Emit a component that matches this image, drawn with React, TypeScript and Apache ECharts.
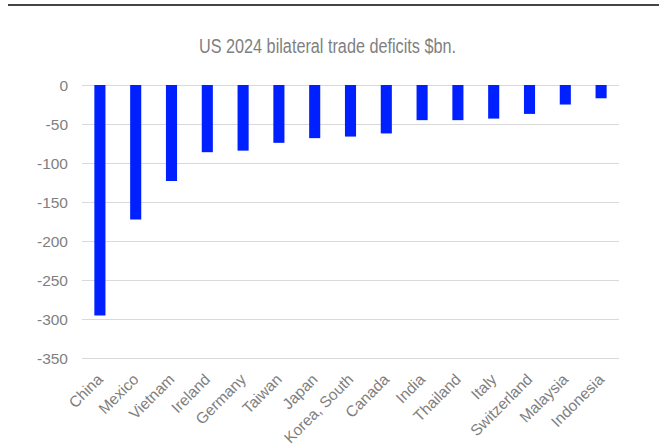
import React, { useEffect, useRef } from "react";
import * as echarts from "echarts";

const categories = ["China", "Mexico", "Vietnam", "Ireland", "Germany", "Taiwan", "Japan", "Korea, South", "Canada", "India", "Thailand", "Italy", "Switzerland", "Malaysia", "Indonesia"];
const deficits = [-295, -172, -123, -86, -84, -74, -68, -66, -62, -45, -45, -43, -37, -25, -17];
const yTicks = { min: -350, max: 0, interval: 50 };
const titleText = "US 2024 bilateral trade deficits $bn.";

const FONT = "'Liberation Sans', Arial, sans-serif";

export default function App() {
  const ref = useRef<HTMLDivElement>(null);
  useEffect(() => {
    if (!ref.current) return;
    const chart = echarts.init(ref.current, undefined, { renderer: "svg" });
    chart.setOption({
      animation: false,
      backgroundColor: "#ffffff",
      graphic: [
        { type: "line", shape: { x1: 8, y1: 5, x2: 659, y2: 5 }, style: { stroke: "#444444", lineWidth: 2 } },
        {
          type: "text",
          x: 327.5,
          y: 46.5,
          scaleX: 0.82,
          style: {
            text: titleText,
            align: "center",
            verticalAlign: "middle",
            fontFamily: FONT,
            fontSize: 19.8,
            fill: "#7f7f7f",
          },
        },
      ],
      grid: { left: 82, right: 40, top: 85, bottom: 85.5, containLabel: false, outerBoundsMode: "none" },
      xAxis: {
        type: "category",
        data: categories,
        position: "bottom",
        axisLine: { show: false },
        axisTick: { show: false },
        axisLabel: {
          rotate: 45,
          interval: 0,
          margin: 18,
          fontFamily: FONT,
          fontSize: 15.5,
          color: "#7f7f7f",
        },
      },
      yAxis: {
        type: "value",
        min: yTicks.min,
        max: yTicks.max,
        interval: yTicks.interval,
        axisLine: { show: false },
        axisTick: { show: false },
        splitLine: { lineStyle: { color: "#d9d9d9", width: 1 } },
        axisLabel: { fontFamily: FONT, fontSize: 15.5, color: "#7f7f7f", margin: 14 },
      },
      series: [
        {
          type: "bar",
          data: deficits,
          barWidth: "31%",
          itemStyle: { color: "#0020ff" },
        },
      ],
    });
    return () => chart.dispose();
  }, []);
  return <div ref={ref} style={{ position: "absolute", left: 0, top: 0, width: 659, height: 444 }} />;
}
